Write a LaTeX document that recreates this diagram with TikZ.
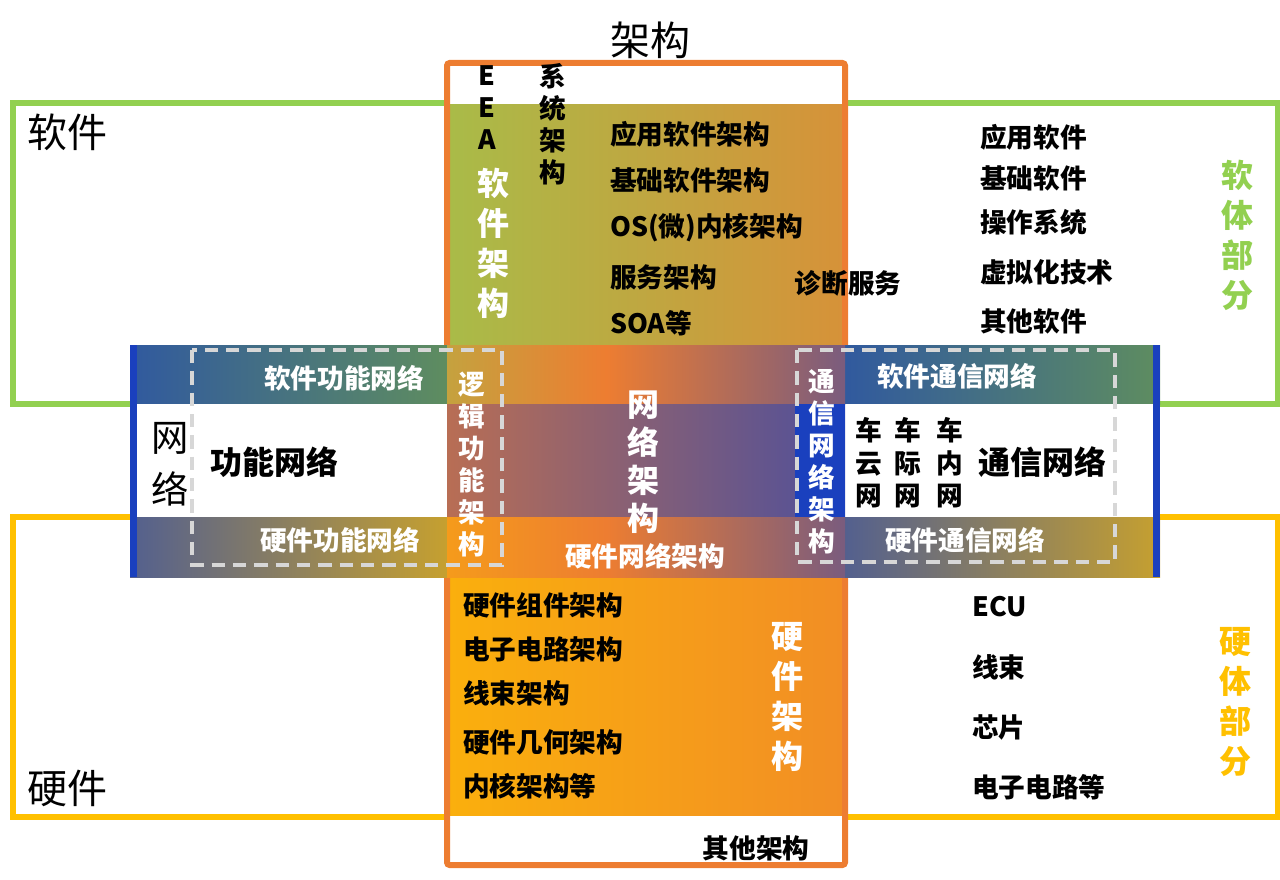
\documentclass[tikz,border=0pt]{standalone}
\usepackage{fontspec}
\newfontfamily\cjk{Noto Sans CJK SC}
\definecolor{lgreen}{RGB}{146,208,80}
\definecolor{gold}{RGB}{255,192,0}
\definecolor{orng}{RGB}{237,125,49}
\definecolor{bblue}{RGB}{26,64,190}
\definecolor{dgray}{RGB}{215,215,215}
\pgfdeclarehorizontalshading{gO}{100bp}{color(0bp)=(lgreen); color(100bp)=(orng)}
\pgfdeclarehorizontalshading{yO}{100bp}{color(0bp)=(gold); color(100bp)=(orng)}
\pgfdeclarehorizontalshading{bG}{100bp}{color(0bp)=(bblue); color(100bp)=(lgreen!80!black)}
\pgfdeclarehorizontalshading{bY}{100bp}{color(0bp)=(bblue); color(100bp)=(gold)}
\pgfdeclarehorizontalshading{gOB}{100bp}{color(0bp)=(lgreen); color(45bp)=(orng); color(100bp)=(bblue)}
\pgfdeclarehorizontalshading{oB}{100bp}{color(0bp)=(orng); color(100bp)=(bblue)}
\pgfdeclarehorizontalshading{yOB}{100bp}{color(0bp)=(gold); color(45bp)=(orng); color(100bp)=(bblue)}
\tikzset{
  t/.style={font=\cjk\bfseries\fontsize{20}{24}\selectfont, inner sep=0pt},
  tl/.style={t, anchor=west},
  w/.style={text=white},
  vt/.style={font=\cjk\bfseries\fontsize{20}{24}\selectfont, inner sep=0pt, align=center},
  vtb/.style={font=\cjk\bfseries\fontsize{24}{30}\selectfont, inner sep=0pt, align=center},
  big/.style={font=\cjk\fontsize{30}{36}\selectfont, inner sep=0pt},
}
\begin{document}
\begin{tikzpicture}[x=0.75pt,y=-0.75pt]
\useasboundingbox (0,0) rectangle (1280,880);
% outlines
\draw[lgreen, line width=4.5] (13,103) rectangle (1278,404);
\draw[gold, line width=4.5] (13,517) rectangle (1278,817);
\fill[white] (447,63) rectangle (845,865);
% column fills
\shade[shading=gO] (447,105) rectangle (845,345);
\shade[shading=yO] (447,577) rectangle (845,815);
\draw[orng, line width=4.5, rounded corners=2] (447,63) rectangle (845,865);
% band
\shade[shading=bG] (130,345) rectangle (447,404);
\fill[white] (130,404) rectangle (447,517);
\shade[shading=bY] (130,517) rectangle (447,577);
\fill[bblue] (130,345) rectangle (137,577);
\shade[shading=bG] (845,345) rectangle (1160,404);
\fill[white] (845,404) rectangle (1160,517);
\shade[shading=bY] (845,517) rectangle (1160,577);
\fill[bblue] (1153,345) rectangle (1160,577);
\shade[shading=gOB] (447,345) rectangle (845,404);
\shade[shading=oB] (447,404) rectangle (845,517);
\shade[shading=yOB] (447,517) rectangle (845,577);
\fill[bblue] (795,404) rectangle (845,517);
% dashed boxes
\draw[dgray, line width=2.5, dash pattern=on 10pt off 6pt] (192,350) rectangle (502,565);
\draw[dgray, line width=2.5, dash pattern=on 10pt off 6pt] (797,350) rectangle (1115,562);
% big labels
\node[big] (jg) at (650,40) {架构};
\node[big] (rj) at (67,132) {软件};
\node[big] (yj) at (67,788) {硬件};
\node[font=\cjk\fontsize{28}{39}\selectfont, inner sep=0pt, align=center] (wl) at (170,464) {网\\络};
% top column
\node[vt] (eea) at (487,108) {E\\E\\A};
\node[vt] (xt) at (553,124) {系\\统\\架\\构};
\node[vtb, w] (rjjg) at (493,243) {软\\件\\架\\构};
\node[tl] (a1) at (610,134) {应用软件架构};
\node[tl] (a2) at (610,180) {基础软件架构};
\node[tl] (a3) at (610,228) {OS(微)内核架构};
\node[tl] (a4) at (610,277) {服务架构};
\node[tl] (a5) at (610,323) {SOA等};
\node[t] (zd) at (848,283) {诊断服务};
% right top
\node[tl] (b1) at (980,137) {应用软件};
\node[tl] (b2) at (980,178) {基础软件};
\node[tl] (b3) at (980,222) {操作系统};
\node[tl] (b4) at (980,272) {虚拟化技术};
\node[tl] (b5) at (980,321) {其他软件};
\node[vtb, text=lgreen] (rt) at (1237,235) {软\\体\\部\\分};
% band texts
\node[t, w] (rg) at (344,378) {软件功能网络};
\node[t, w] (yg) at (340,540) {硬件功能网络};
\node[t, font=\cjk\bfseries\fontsize{24}{28}\selectfont] (gn) at (274,462) {功能网络};
\node[vt, w] (lj) at (472,465) {逻\\辑\\功\\能\\架\\构};
\node[vtb, font=\cjk\bfseries\fontsize{24}{28.5}\selectfont, w] (wljg) at (643,462) {网\\络\\架\\构};
\node[t, w] (ywl) at (645,556) {硬件网络架构};
\node[vt, w] (tx) at (822,462) {通\\信\\网\\络\\架\\构};
\node[t, w] (rtx) at (957,376) {软件通信网络};
\node[t, w] (ytx) at (965,540) {硬件通信网络};
\node[vt, font=\cjk\bfseries\fontsize{20}{24.5}\selectfont] (c1) at (869,463) {车\\云\\网};
\node[vt, font=\cjk\bfseries\fontsize{20}{24.5}\selectfont] (c2) at (908,463) {车\\际\\网};
\node[vt, font=\cjk\bfseries\fontsize{20}{24.5}\selectfont] (c3) at (950,463) {车\\内\\网};
\node[t, font=\cjk\bfseries\fontsize{24}{28}\selectfont] (txw) at (1042,462) {通信网络};
% bottom column
\node[tl] (d1) at (463,605) {硬件组件架构};
\node[tl] (d2) at (463,649) {电子电路架构};
\node[tl] (d3) at (463,693) {线束架构};
\node[tl] (d4) at (463,742) {硬件几何架构};
\node[tl] (d5) at (463,786) {内核架构等};
\node[vtb, w] (yjjg) at (787,697) {硬\\件\\架\\构};
\node[t] (qt) at (756,848) {其他架构};
% right bottom
\node[tl] (e1) at (972,607) {ECU};
\node[tl] (e2) at (972,667) {线束};
\node[tl] (e3) at (972,727) {芯片};
\node[tl] (e4) at (972,787) {电子电路等};
\node[vtb, text=gold] (yt) at (1235,702) {硬\\体\\部\\分};
\end{tikzpicture}
\end{document}
